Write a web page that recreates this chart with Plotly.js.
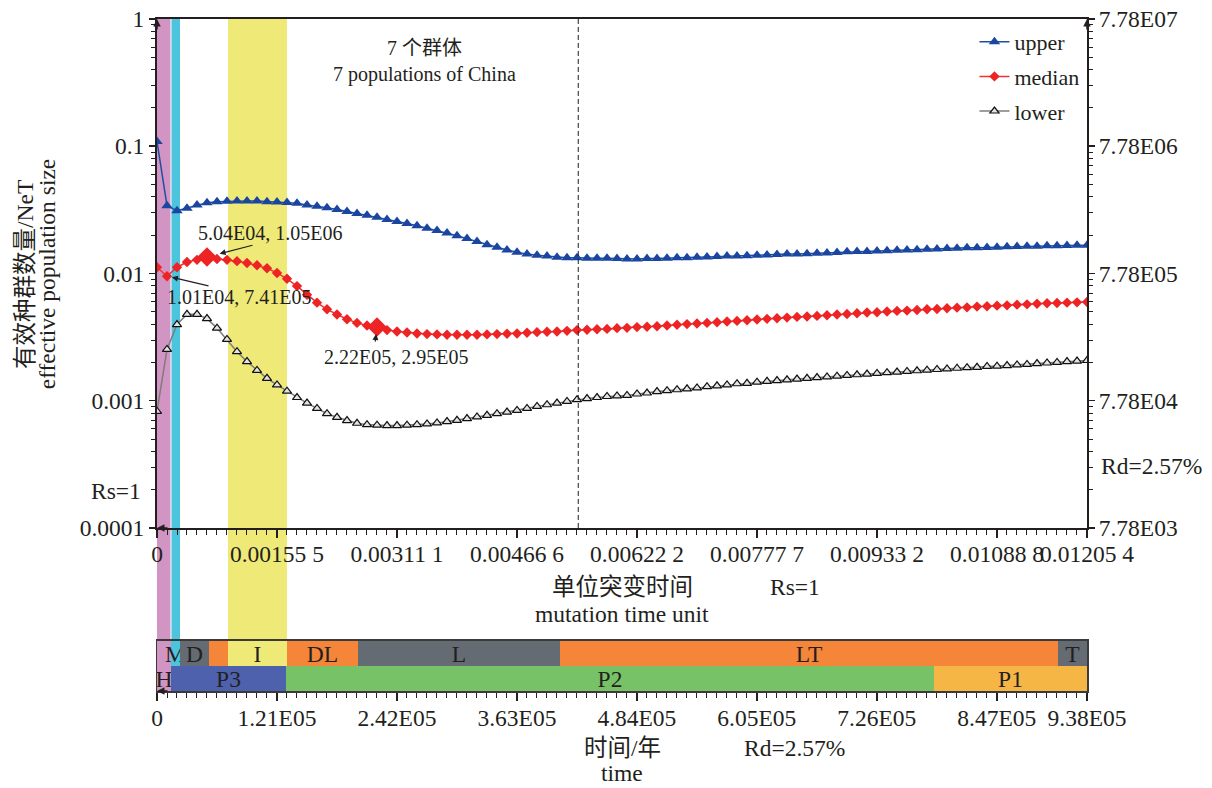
<!DOCTYPE html>
<html>
<head>
<meta charset="utf-8">
<script src="https://cdn.plot.ly/plotly-3.0.1.min.js"></script>
<style>
  html, body { margin: 0; padding: 0; background: #fff; }
  #chart { width: 1212px; height: 788px; }
</style>
</head>
<body>
<div id="chart"></div>
<script>
// ---- data -------------------------------------------------------------
// time in mutation units (per site)
const mutationTime = [
  0, 0.0001296, 0.0002592, 0.0003889, 0.0005185, 0.0006481, 0.0007777, 0.0009073, 0.0010369, 0.0011666,
  0.0012962, 0.0014258, 0.0015554, 0.0016850, 0.0018147, 0.0019443, 0.0020739, 0.0022035, 0.0023331, 0.0024627,
  0.0025923, 0.0027220, 0.0028516, 0.0029812, 0.0031108, 0.0032404, 0.0033701, 0.0034997, 0.0036293, 0.0037589,
  0.0038885, 0.0040181, 0.0041478, 0.0042774, 0.0044070, 0.0045366, 0.0046662, 0.0047958, 0.0049255, 0.0050551,
  0.0051847, 0.0053143, 0.0054439, 0.0055735, 0.0057032, 0.0058328, 0.0059624, 0.0060920, 0.0062216, 0.0063512,
  0.0064809, 0.0066105, 0.0067401, 0.0068697, 0.0069993, 0.0071289, 0.0072586, 0.0073882, 0.0075178, 0.0076474,
  0.0077770, 0.0079066, 0.0080363, 0.0081659, 0.0082955, 0.0084251, 0.0085547, 0.0086843, 0.0088140, 0.0089436,
  0.0090732, 0.0092028, 0.0093324, 0.0094621, 0.0095917, 0.0097213, 0.0098509, 0.0099805, 0.0101101, 0.0102398,
  0.0103694, 0.0104990, 0.0106286, 0.0107582, 0.0108878, 0.0110175, 0.0111471, 0.0112767, 0.0114063, 0.0115359,
  0.0116655, 0.0117952, 0.0119248, 0.0120544
];

// effective population size NeT (upper / median / lower bounds)
const upperNe = [
  0.109, 0.0340, 0.0311, 0.0326, 0.0346, 0.0359, 0.0367, 0.0370, 0.0372, 0.0372,
  0.0372, 0.0367, 0.0365, 0.0361, 0.0357, 0.0346, 0.0338, 0.0328, 0.0318, 0.0307,
  0.0296, 0.0287, 0.0277, 0.0266, 0.0256, 0.0247, 0.0237, 0.0227, 0.0218, 0.0208,
  0.0198, 0.0188, 0.0178, 0.0168, 0.0161, 0.0153, 0.0147, 0.0142, 0.0139, 0.0137,
  0.0134, 0.0133, 0.0133, 0.0132, 0.0132, 0.0132, 0.0131, 0.0130, 0.0130, 0.0131,
  0.0131, 0.0132, 0.0133, 0.0133, 0.0134, 0.0135, 0.0136, 0.0137, 0.0137, 0.0138,
  0.0139, 0.0140, 0.0141, 0.0142, 0.0142, 0.0143, 0.0144, 0.0145, 0.0146, 0.0148,
  0.0149, 0.0149, 0.0150, 0.0151, 0.0152, 0.0153, 0.0154, 0.0155, 0.0156, 0.0157,
  0.0158, 0.0159, 0.0159, 0.0160, 0.0161, 0.0162, 0.0163, 0.0164, 0.0164, 0.0165,
  0.0165, 0.0166, 0.0167, 0.0167
];
const medianNe = [
  0.0112, 0.00952, 0.0112, 0.0123, 0.0128, 0.0135, 0.0130, 0.0128, 0.0125, 0.0121,
  0.0116, 0.0110, 0.0101, 0.00908, 0.00796, 0.00681, 0.00590, 0.00523, 0.00476, 0.00437,
  0.00409, 0.00390, 0.00379, 0.00359, 0.00350, 0.00344, 0.00338, 0.00334, 0.00332, 0.00330,
  0.00330, 0.00330, 0.00330, 0.00332, 0.00334, 0.00336, 0.00338, 0.00342, 0.00346, 0.00348,
  0.00350, 0.00354, 0.00359, 0.00361, 0.00365, 0.00367, 0.00372, 0.00374, 0.00379, 0.00381,
  0.00385, 0.00390, 0.00395, 0.00400, 0.00404, 0.00409, 0.00414, 0.00419, 0.00424, 0.00429,
  0.00435, 0.00440, 0.00445, 0.00450, 0.00456, 0.00459, 0.00464, 0.00470, 0.00476, 0.00481,
  0.00487, 0.00493, 0.00496, 0.00502, 0.00508, 0.00511, 0.00517, 0.00523, 0.00526, 0.00533,
  0.00539, 0.00542, 0.00549, 0.00552, 0.00559, 0.00562, 0.00569, 0.00572, 0.00579, 0.00583,
  0.00586, 0.00590, 0.00593, 0.00597
];
const lowerNe = [
  0.000825, 0.00253, 0.00397, 0.00478, 0.00478, 0.00442, 0.00372, 0.00303, 0.00243, 0.00203,
  0.00173, 0.00150, 0.00133, 0.00119, 0.00106, 0.000959, 0.000871, 0.000791, 0.000741, 0.000698,
  0.000665, 0.000649, 0.000642, 0.000638, 0.000638, 0.000642, 0.000649, 0.000657, 0.000669, 0.000686,
  0.000702, 0.000724, 0.000746, 0.000768, 0.000791, 0.000815, 0.000840, 0.000871, 0.000903, 0.000930,
  0.000959, 0.000988, 0.00102, 0.00104, 0.00106, 0.00108, 0.00109, 0.00110, 0.00113, 0.00115,
  0.00118, 0.00120, 0.00122, 0.00124, 0.00126, 0.00129, 0.00131, 0.00133, 0.00136, 0.00137,
  0.00140, 0.00142, 0.00144, 0.00146, 0.00148, 0.00150, 0.00152, 0.00154, 0.00156, 0.00158,
  0.00160, 0.00162, 0.00164, 0.00166, 0.00168, 0.00170, 0.00172, 0.00174, 0.00176, 0.00178,
  0.00180, 0.00182, 0.00183, 0.00186, 0.00187, 0.00189, 0.00191, 0.00193, 0.00196, 0.00198,
  0.00200, 0.00203, 0.00205, 0.00207
];

// scaling between NeT / mutation units and Ne / years (Rs = 1, Rd = 2.57%)
const scaleFactor = 7.78e7;

// highlighted points on the median curve (indices into the arrays above)
const labelledPoints = [5, 1, 22];

// vertical marker (mutation units)
const markerTime = 0.00546;

// axis tick labels
const mutationTickText = ['0', '0.00155 5', '0.00311 1', '0.00466 6', '0.00622 2',
                          '0.00777 7', '0.00933 2', '0.01088 8', '0.01205 4'];
const yearTickText = ['0', '1.21E05', '2.42E05', '3.63E05', '4.84E05',
                      '6.05E05', '7.26E05', '8.47E05', '9.38E05'];
const netTickText = ['0.0001', '0.001', '0.01', '0.1', '1'];
const neTickText = ['7.78E03', '7.78E04', '7.78E05', '7.78E06', '7.78E07'];

// climatic / geological phases (years before present)
const upperPhaseNames = ['', 'M', 'D', '', 'I', 'DL', 'L', 'LT', 'T'];
const upperPhaseStart = [0, 14100, 23200, 52450, 71600, 131100, 202700, 406500, 908700];
const upperPhaseEnd   = [14100, 23200, 52450, 71600, 131100, 202700, 406500, 908700, 938000];
const lowerPhaseNames = ['H', 'P3', 'P2', 'P1'];
const lowerPhaseStart = [0, 14100, 130100, 783700];
const lowerPhaseEnd   = [14100, 130100, 783700, 938000];

// shaded periods across the plot (years)
const bandStart = [0, 14600, 71600];
const bandEnd   = [13600, 23200, 131100];

// ---- styles -----------------------------------------------------------
const FONT = "Liberation Serif, Times New Roman, Noto Sans CJK SC, serif";
const INK = '#231f20';
const SIZE = 23.5;
const PINK = '#d294c3', CYAN = '#4cc4de', YELLOW = '#efea77';
const GREY = '#646b72', ORANGE = '#f58538', BLUE = '#4d61ad', GREEN = '#77c267', AMBER = '#f5b646';
const upperPhaseColors = [PINK, CYAN, GREY, ORANGE, YELLOW, ORANGE, GREY, ORANGE, GREY];
const lowerPhaseColors = [PINK, BLUE, GREEN, AMBER];
const bandColors = [PINK, CYAN, YELLOW];
const f = (size) => ({ family: FONT, size: size, color: INK });

// ---- helpers ----------------------------------------------------------
function fmtE(v) {
  const e = Math.floor(Math.log10(v));
  const m = v / Math.pow(10, e);
  return m.toFixed(2) + 'E' + (e < 10 ? '0' : '') + e;
}
const parseTick = s => parseFloat(s.replace(/\s/g, ''));

const mainBottom = 0.2426;   // lower edge of the NeT panel (paper fraction)
const barTop = 0.0744;       // upper edge of the phase strip (paper fraction)

// ---- traces -----------------------------------------------------------
const traces = [
  {
    type: 'scatter', mode: 'lines+markers', name: 'upper', legendgroup: 'a',
    x: mutationTime, y: upperNe, xaxis: 'x', yaxis: 'y',
    line: { color: '#1f4fa3', width: 1.5 },
    marker: { symbol: 'triangle-up', size: 10, color: '#1a46a0' }
  },
  {
    type: 'scatter', mode: 'lines+markers', name: 'median', legendgroup: 'b',
    x: mutationTime, y: medianNe, xaxis: 'x', yaxis: 'y',
    line: { color: '#f03434', width: 1.5 },
    marker: { symbol: 'diamond', size: 8, color: '#ee2424' }
  },
  {
    type: 'scatter', mode: 'lines+markers', name: 'lower', legendgroup: 'c',
    x: mutationTime, y: lowerNe, xaxis: 'x', yaxis: 'y',
    line: { color: '#7d7d7d', width: 1.5 },
    marker: { symbol: 'triangle-up', size: 8, color: '#e4e4e4', line: { color: '#111', width: 1.2 } }
  },
  {
    type: 'scatter', mode: 'markers', showlegend: false,
    x: [mutationTime[5], mutationTime[22]], y: [medianNe[5], medianNe[22]],
    xaxis: 'x', yaxis: 'y',
    marker: { symbol: 'diamond', size: 15, color: '#ee2424' }
  },
  // the same median curve expressed as Ne (right-hand axis); drawn invisibly so the axis renders
  {
    type: 'scatter', mode: 'lines', showlegend: false, hoverinfo: 'skip',
    x: mutationTime, y: medianNe.map(v => v * scaleFactor), xaxis: 'x', yaxis: 'y2',
    line: { color: 'rgba(0,0,0,0)', width: 0 }
  },
  {
    type: 'bar', orientation: 'h', xaxis: 'x2', yaxis: 'y3', showlegend: false,
    y: upperPhaseNames.map(() => 1), base: upperPhaseStart,
    x: upperPhaseEnd.map((e, i) => e - upperPhaseStart[i]), width: 1,
    marker: { color: upperPhaseColors, line: { width: 0 } },
    text: upperPhaseNames, textposition: 'inside', insidetextanchor: 'middle',
    textangle: 0, constraintext: 'none', textfont: f(SIZE)
  },
  {
    type: 'bar', orientation: 'h', xaxis: 'x2', yaxis: 'y3', showlegend: false,
    y: lowerPhaseNames.map(() => 0), base: lowerPhaseStart,
    x: lowerPhaseEnd.map((e, i) => e - lowerPhaseStart[i]), width: 1,
    marker: { color: lowerPhaseColors, line: { width: 0 } },
    text: lowerPhaseNames, textposition: 'inside', insidetextanchor: 'middle',
    textangle: 0, constraintext: 'none', textfont: f(SIZE)
  }
];

// ---- shapes -----------------------------------------------------------
const shapes = bandStart.map((s, i) => ({
  type: 'rect', layer: 'below', xref: 'x2', yref: 'paper',
  x0: s, x1: bandEnd[i], y0: 0, y1: 1,
  fillcolor: bandColors[i], line: { width: 0 }
}));
shapes.push({
  type: 'line', xref: 'x', yref: 'paper', x0: markerTime, x1: markerTime,
  y0: mainBottom, y1: 1, line: { color: INK, width: 1, dash: '5px,3px' }
});

// ---- annotations ------------------------------------------------------
const ann = [];
const txt = (text, x, y, size, extra) => Object.assign({
  text, x, y, xref: 'paper', yref: 'paper', showarrow: false,
  xanchor: 'center', yanchor: 'middle', font: f(size)
}, extra || {});

ann.push(txt('7 个群体', 0.288, 0.957, 20));
ann.push(txt('7 populations of China', 0.288, 0.918, 20));

// axis titles (two lines each, tighter line spacing than the default)
ann.push(txt('单位突变时间', 0.5, 0.1548, SIZE));
ann.push(txt('mutation time unit', 0.5, 0.1146, SIZE));
ann.push(txt('Rs=1', 0.686, 0.1548, SIZE));
ann.push(txt('时间/年', 0.5, -0.0848, SIZE));
ann.push(txt('time', 0.5, -0.122, SIZE));
ann.push(txt('Rd=2.57%', 0.686, -0.0848, SIZE));
ann.push(txt('有效种群数量/NeT', -0.1420, 0.6205, SIZE, { textangle: -90 }));
ann.push(txt('effective population size', -0.1180, 0.6205, SIZE, { textangle: -90 }));

ann.push(txt('Rs=1', 0, Math.log10(0.000196), SIZE, { yref: 'y', xanchor: 'right', xshift: -14 }));
ann.push(txt('Rd=2.57%', 1, Math.log10(0.000308), SIZE, { yref: 'y', xanchor: 'left', xshift: 12 }));

// value labels on the median curve
const labelShift = { 5: [63, 24], 1: [72, -21], 22: [19, -30] };
const arrowTail = { 5: [47, -12, 13], 1: [43, 10, 5], 22: [-2, 16, 7] };
labelledPoints.forEach(i => {
  const xv = mutationTime[i], yv = medianNe[i];
  const label = fmtE(xv * scaleFactor) + ', ' + fmtE(yv * scaleFactor);
  ann.push({
    text: label, x: xv, y: Math.log10(yv), xref: 'x', yref: 'y', showarrow: false,
    xanchor: 'center', yanchor: 'middle',
    xshift: labelShift[i][0], yshift: labelShift[i][1], font: f(20)
  });
  ann.push({
    text: '', x: xv, y: Math.log10(yv), xref: 'x', yref: 'y', showarrow: true,
    ax: arrowTail[i][0], ay: arrowTail[i][1], standoff: arrowTail[i][2],
    arrowhead: 2, arrowsize: 1, arrowwidth: 1.2, arrowcolor: INK
  });
});

// arrowheads at the axis ends
[[0, 1, 0, 12], [1, 1, 0, 12], [0, mainBottom, 12, 0], [0, 0, 12, 0]].forEach(a => {
  ann.push({
    text: '', x: a[0], y: a[1], xref: 'paper', yref: 'paper', showarrow: true,
    ax: a[2], ay: a[3], arrowhead: 2, arrowsize: 1, arrowwidth: 1.5, arrowcolor: INK, standoff: 0
  });
});

// ---- layout -----------------------------------------------------------
const axisCommon = {
  showgrid: false, zeroline: false, showline: true, linecolor: INK, linewidth: 2,
  tickcolor: INK, tickfont: f(SIZE)
};
const mutationTickVals = mutationTickText.map(parseTick);
const yearTickVals = yearTickText.map(parseTick);
const netTickVals = netTickText.map(parseTick);
const neTickVals = netTickVals.map(v => v * scaleFactor);

const layout = {
  width: 1212, height: 788,
  margin: { l: 157, r: 125, t: 19, b: 97 },
  paper_bgcolor: '#ffffff', plot_bgcolor: 'rgba(0,0,0,0)',
  font: f(SIZE),
  barmode: 'overlay', bargap: 0,
  showlegend: true,
  legend: {
    x: 0.879, y: 0.997, xanchor: 'left', yanchor: 'top',
    bgcolor: 'rgba(0,0,0,0)', font: f(22),
    traceorder: 'grouped', tracegroupgap: 3, itemwidth: 30
  },
  xaxis: Object.assign({}, axisCommon, {
    domain: [0, 1], anchor: 'y', range: [0, mutationTickVals[mutationTickVals.length - 1]],
    tickmode: 'array', tickvals: mutationTickVals, ticktext: mutationTickText, tickangle: 0,
    ticks: 'outside', ticklen: 8, tickwidth: 1.5, mirror: true, ticklabelstandoff: -4,
    minor: { dtick: mutationTickVals[1] / 12, tick0: 0, ticks: 'outside', ticklen: 5, tickwidth: 1, tickcolor: INK }
  }),
  yaxis: Object.assign({}, axisCommon, {
    domain: [mainBottom, 1], anchor: 'x', type: 'log', range: [-4, 0],
    tickmode: 'array', tickvals: netTickVals, ticktext: netTickText,
    ticks: 'outside', ticklen: 6, tickwidth: 1.5, mirror: 'ticks',
    minor: { dtick: 'D1', ticks: 'outside', ticklen: 4, tickwidth: 1, tickcolor: INK }
  }),
  yaxis2: {
    overlaying: 'y', anchor: 'x', side: 'right', type: 'log',
    range: [Math.log10(netTickVals[0] * scaleFactor), Math.log10(scaleFactor)],
    tickmode: 'array', tickvals: neTickVals, ticktext: neTickText,
    ticks: 'outside', ticklen: 6, tickwidth: 1.5, tickcolor: INK,
    showline: false, showgrid: false, zeroline: false, tickfont: f(SIZE)
  },
  xaxis2: Object.assign({}, axisCommon, {
    domain: [0, 1], anchor: 'y3', range: [0, yearTickVals[yearTickVals.length - 1]],
    tickmode: 'array', tickvals: yearTickVals, ticktext: yearTickText, tickangle: 0,
    ticks: 'outside', ticklen: 8, tickwidth: 1.5, mirror: true, linecolor: '#3a3a3a', ticklabelstandoff: -3,
    minor: { dtick: yearTickVals[1] / 12, tick0: 0, ticks: 'outside', ticklen: 5, tickwidth: 1, tickcolor: INK }
  }),
  yaxis3: {
    domain: [0, barTop], anchor: 'x2', range: [-0.5, 1.5],
    showticklabels: false, ticks: '', showgrid: false, zeroline: false,
    showline: true, mirror: true, linecolor: '#3a3a3a', linewidth: 1.5
  },
  shapes: shapes,
  annotations: ann
};

Plotly.newPlot('chart', traces, layout, { staticPlot: true, displayModeBar: false });
</script>
</body>
</html>
